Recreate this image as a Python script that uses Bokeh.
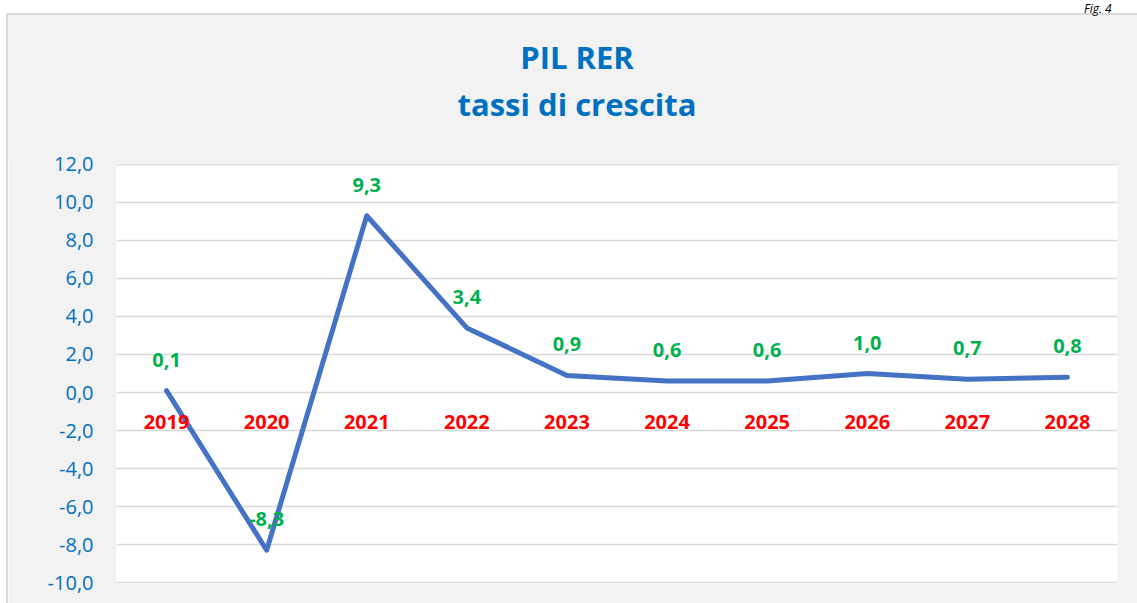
from bokeh.plotting import figure
from bokeh.models import (ColumnDataSource, Range1d, FactorRange, FixedTicker,
                          CustomJSTickFormatter, Div)
from bokeh.layouts import column
from bokeh.core.properties import value
from bokeh.embed import file_html
from bokeh.resources import INLINE

# ---- data ----
years = ["2019", "2020", "2021", "2022", "2023", "2024", "2025", "2026", "2027", "2028"]
growth = [0.1, -8.3, 9.3, 3.4, 0.9, 0.6, 0.6, 1.0, 0.7, 0.8]
y_ticks = [-10, -8, -6, -4, -2, 0, 2, 4, 6, 8, 10, 12]
title_lines = ["PIL RER", "tassi di crescita"]
fig_note = "Fig. 4"

FONT = "Open Sans"
BLUE = "#0070c0"
GREEN = "#00b050"
RED = "#ff0000"
LINE = "#4472c4"
GRID = "#d9d9d9"
PANEL = "#f2f2f2"

W = 1137          # total layout width
HEAD_H = 151      # header height (above the chart canvas)
FIG_H = 452       # chart canvas height

growth_labels = [f"{v:.1f}".replace(".", ",") for v in growth]
src = ColumnDataSource(dict(year=years, growth=growth, label=growth_labels,
                            zero=[0] * len(years)))

# ---- header (note + title) ----
title_html = "<br>".join(title_lines)
header = Div(
    width=W, height=HEAD_H, margin=0,
    text=(
        f'<div style="position:relative;width:{W}px;height:{HEAD_H}px;'
        'font-family:\'Open Sans\',sans-serif;">'
        f'<div style="position:absolute;left:6px;top:13px;width:{W - 6}px;'
        f'height:{HEAD_H - 13 + 8}px;background:{PANEL};border-top:2px solid {GRID};'
        f'border-left:2px solid {GRID};box-sizing:border-box;"></div>'
        '<div style="position:absolute;left:1084px;top:0;white-space:nowrap;'
        'font-style:italic;font-size:12px;line-height:normal;color:#000;">'
        f'{fig_note}</div>'
        '<div style="position:absolute;left:0;top:34px;width:1154px;text-align:center;'
        f'color:{BLUE};font-weight:bold;font-size:31px;line-height:47px;">'
        f'{title_html}</div>'
        '</div>'
    ),
)

# ---- chart ----
p = figure(width=W - 8, height=FIG_H,
           x_range=FactorRange(*years, range_padding=0),
           y_range=Range1d(-10.05, 12.05),
           output_backend="svg", toolbar_location=None,
           min_border_left=108, min_border_right=20,
           min_border_top=12, min_border_bottom=20,
           margin=(0, 0, 0, 8))
p.title.text = ""
p.background_fill_color = "white"
p.border_fill_color = PANEL
p.outline_line_color = None
p.styles = {"box-shadow": f"-2px 0 0 0 {GRID}"}

p.xaxis.visible = False
p.xgrid.grid_line_color = None

ticker = FixedTicker(ticks=y_ticks)
p.yaxis.ticker = ticker
p.yaxis.formatter = CustomJSTickFormatter(code="return tick.toFixed(1).replace('.', ',');")
p.yaxis.axis_line_color = None
p.yaxis.major_tick_line_color = None
p.yaxis.minor_tick_line_color = None
p.yaxis.major_tick_out = 0
p.yaxis.major_tick_in = 0
p.yaxis.major_label_standoff = 23
p.yaxis.major_label_text_font = FONT
p.yaxis.major_label_text_font_size = "20px"
p.yaxis.major_label_text_color = BLUE
p.ygrid.ticker = ticker
p.ygrid.grid_line_color = GRID
p.ygrid.grid_line_width = 1.5

p.line(x="year", y="growth", source=src, line_color=LINE, line_width=5,
       line_join="round", line_cap="round")

# category labels along the zero line
p.text(x="year", y="zero", text="year", source=src, text_color=RED,
       text_font=value(FONT), text_font_style="bold", text_font_size="20px",
       text_align="center", text_baseline="alphabetic", y_offset=29)

# data labels
p.text(x="year", y="growth", text="label", source=src, text_color=GREEN,
       text_font=value(FONT), text_font_style="bold", text_font_size="20px",
       text_align="center", text_baseline="alphabetic", y_offset=-31)

layout = column(header, p, spacing=0, margin=0)
open("out.html", "w").write(file_html(layout, INLINE))
